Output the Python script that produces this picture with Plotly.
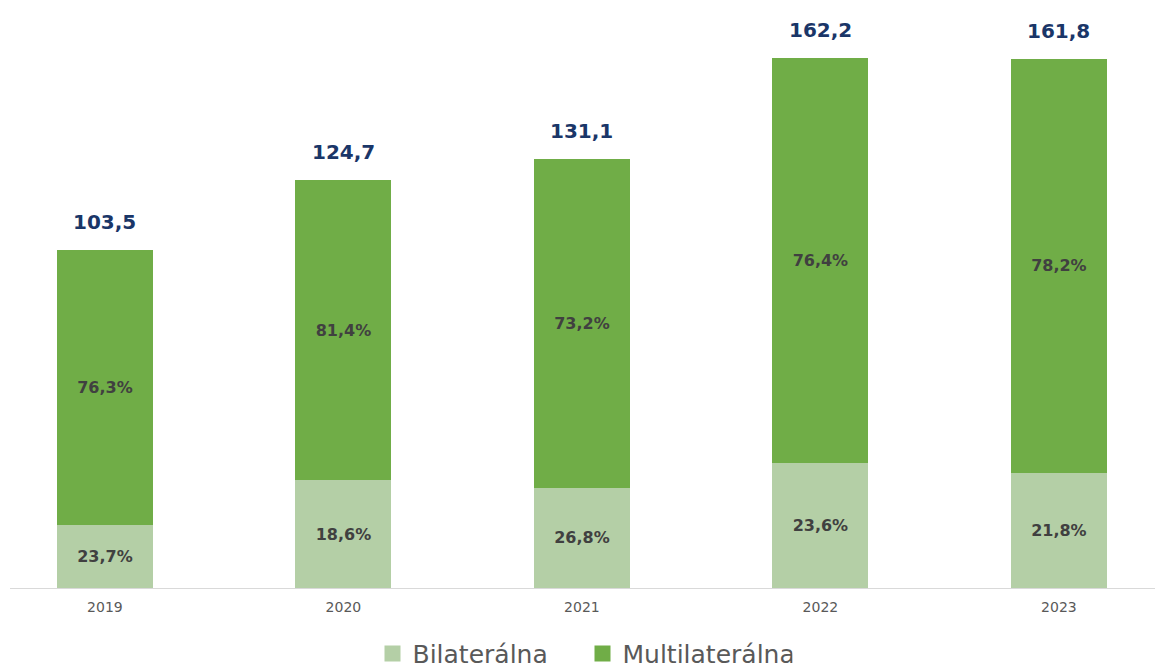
import plotly.graph_objects as go

years = ["2019", "2020", "2021", "2022", "2023"]
totals = [103.5, 124.7, 131.1, 162.2, 161.8]
total_labels = ["103,5", "124,7", "131,1", "162,2", "161,8"]
bilateral = [19.3, 33.0, 30.6, 38.2, 35.2]
multilateral = [84.2, 91.7, 100.5, 124.0, 126.6]
bilateral_labels = ["23,7%", "18,6%", "26,8%", "23,6%", "21,8%"]
multilateral_labels = ["76,3%", "81,4%", "73,2%", "76,4%", "78,2%"]

FONT = "DejaVu Sans, sans-serif"
C_BI = "#B4CFA6"
C_MULTI = "#70AD47"

fig = go.Figure()
fig.add_trace(go.Bar(
    x=years, y=bilateral, name="Bilaterálna", showlegend=False,
    marker=dict(color=C_BI, line=dict(width=0)),
    text=bilateral_labels, textposition="inside", insidetextanchor="middle",
    textfont=dict(family=FONT, size=16, color="#404040", weight="bold"),
    hoverinfo="skip",
))
fig.add_trace(go.Bar(
    x=years, y=multilateral, name="Multilaterálna", showlegend=False,
    marker=dict(color=C_MULTI, line=dict(width=0)),
    text=multilateral_labels, textposition="inside", insidetextanchor="middle",
    textfont=dict(family=FONT, size=16, color="#404040", weight="bold"),
    hoverinfo="skip",
))
# legend entries with larger square symbols
for name, col in [("Bilaterálna", C_BI), ("Multilaterálna", C_MULTI)]:
    fig.add_trace(go.Scatter(
        x=[None], y=[None], mode="markers", name=name,
        marker=dict(symbol="square", size=17, color=col),
        showlegend=True, hoverinfo="skip",
    ))

for i, (tot, lab) in enumerate(zip(totals, total_labels)):
    fig.add_annotation(
        x=i, y=tot, xref="x", yref="y", text=lab, showarrow=False,
        yanchor="middle", yshift=28,
        font=dict(family=FONT, size=20, color="#1A3668", weight="bold"),
    )

fig.update_layout(
    width=1163, height=671,
    margin=dict(l=10, r=8, t=0, b=83, autoexpand=False),
    barmode="stack", bargap=0.597,
    plot_bgcolor="white", paper_bgcolor="white",
    showlegend=True,
    legend=dict(
        orientation="h", x=0.5, xanchor="center", y=-0.112, yanchor="middle",
        font=dict(family=FONT, size=25, color="#595959"),
        itemsizing="trace", traceorder="normal", entrywidth=165,
    ),
    uniformtext=dict(minsize=16, mode="show"),
)
fig.update_xaxes(
    type="category", range=[-0.398, 4.403],
    showline=True, linecolor="#D9D9D9", linewidth=1,
    ticks="", showgrid=False, ticklabelstandoff=6,
    tickfont=dict(family=FONT, size=14, color="#595959"),
)
fig.update_yaxes(
    range=[0, 179.8], visible=False, showgrid=False, zeroline=False,
)

fig.write_html("out.html")
